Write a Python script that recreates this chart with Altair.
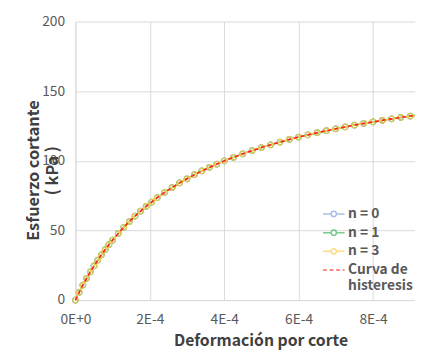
import altair as alt
import pandas as pd

# shear strain (x) and shear stress in kPa (y)
strain = [0.0, 0.1e-4, 0.2e-4, 0.3e-4, 0.4e-4, 0.5e-4, 0.6e-4, 0.7e-4, 0.8e-4, 0.9e-4,
          1.0e-4, 1.15e-4, 1.3e-4, 1.45e-4, 1.6e-4, 1.75e-4, 1.9e-4, 2.05e-4, 2.2e-4,
          2.4e-4, 2.6e-4, 2.8e-4, 3.0e-4, 3.2e-4, 3.4e-4, 3.6e-4, 3.8e-4, 4.0e-4,
          4.25e-4, 4.5e-4, 4.75e-4, 5.0e-4, 5.25e-4, 5.5e-4, 5.75e-4, 6.0e-4, 6.25e-4,
          6.5e-4, 6.75e-4, 7.0e-4, 7.25e-4, 7.5e-4, 7.75e-4, 8.0e-4, 8.25e-4, 8.5e-4,
          8.75e-4, 9.0e-4, 9.25e-4]
stress = [0.0, 5.5, 10.7, 15.6, 20.2, 24.5, 28.6, 32.5, 36.2, 39.8,
          43.1, 47.8, 52.2, 56.4, 60.2, 63.8, 67.2, 70.4, 73.5,
          77.3, 80.8, 84.1, 87.1, 90.0, 92.7, 95.2, 97.6, 99.9,
          102.5, 105.0, 107.3, 109.5, 111.5, 113.4, 115.3, 117.0, 118.6,
          120.2, 121.6, 123.0, 124.3, 125.6, 126.8, 127.9, 129.0, 130.1,
          131.1, 132.1, 133.0]

series_names = ["n = 0", "n = 1", "n = 3", "Curva de histeresis"]
series_colors = ["#86A4DD", "#45B564", "#FFD04D", "#FF2020"]
x_ticks = [0, 2e-4, 4e-4, 6e-4, 8e-4]
y_ticks = [0, 50, 100, 150, 200]

df = pd.DataFrame({"strain": strain, "stress": stress})

marker_path = ("M-1.15,0L-0.28,0M0.28,0L1.15,0M0.28,0A0.28,0.28 0 1 1 -0.28,0"
               "A0.28,0.28 0 1 1 0.28,0")
dash_path = "M-1.15,0L-0.75,0M-0.45,0L-0.05,0M0.25,0L0.65,0M0.95,0L1.15,0"

color_scale = alt.Scale(domain=series_names, range=series_colors)
shape_scale = alt.Scale(domain=series_names,
                        range=[marker_path, marker_path, marker_path, dash_path])

x_enc = alt.X("strain:Q",
              scale=alt.Scale(domain=[0, 9.13e-4], nice=False),
              axis=alt.Axis(values=x_ticks, labelFlush=False,
                            labelExpr="datum.value == 0 ? '0E+0' : format(datum.value*1e4, 'd') + 'E-4'",
                            title="Deformación por corte",
                            titleX=188, titleY=41, titleBaseline="middle",
                            titleAnchor="start", titleAlign="center", titleFontSize=16))
y_enc = alt.Y("stress:Q",
              scale=alt.Scale(domain=[0, 200], nice=False),
              axis=alt.Axis(values=y_ticks,
                            title=["Esfuerzo cortante", "( kPa )"],
                            titleX=-42, titleY=151, titleAngle=-90,
                            titleAlign="center", titleBaseline="middle",
                            titleLineHeight=19, titleFontSize=16.5))

layers = []
for name, col in zip(series_names[:3], series_colors[:3]):
    line = alt.Chart(df).mark_line(strokeWidth=1.5, color=col).encode(x=x_enc, y=y_enc)
    pts = alt.Chart(df).mark_point(filled=False, size=32, strokeWidth=1.2,
                                   color=col, opacity=0.85).encode(x=x_enc, y=y_enc)
    layers += [line, pts]

red = alt.Chart(df).mark_line(strokeWidth=1.6, strokeDash=[4, 3],
                              color=series_colors[3]).encode(x=x_enc, y=y_enc)
layers.append(red)

# legend-only layer (no data rows)
legend_df = pd.DataFrame({"strain": pd.Series([], dtype=float),
                          "stress": pd.Series([], dtype=float),
                          "serie": pd.Series([], dtype=str)})
legend_layer = alt.Chart(legend_df).mark_point(filled=False).encode(
    x=x_enc, y=y_enc,
    color=alt.Color("serie:N", scale=color_scale,
                    legend=alt.Legend(title=None, orient="none", legendX=252, legendY=185,
                                      labelExpr="datum.label == 'Curva de histeresis' ? ['Curva de', 'histeresis'] : datum.label")),
    shape=alt.Shape("serie:N", scale=shape_scale))
layers.append(legend_layer)

chart = alt.layer(*layers).properties(
    width=345, height=283,
    autosize=alt.AutoSizeParams(type="none"),
    padding={"left": 68.5, "top": 11, "right": 0, "bottom": 48},
).configure_view(stroke=None).configure_axis(
    grid=True, gridColor="#D9D9D9", gridWidth=1,
    domainColor="#D9D9D9", ticks=False,
    labelFont="Noto Sans CJK KR", labelFontSize=14, labelColor="#595959",
    titleFont="Noto Sans CJK KR", titleFontWeight="bold", titleColor="#404040",
).configure_axisX(labelPadding=13, domain=True).configure_axisY(
    labelPadding=11, domain=True
).configure_legend(
    labelFont="Noto Sans CJK KR", labelFontSize=14, labelFontWeight="bold", labelColor="#595959",
    symbolSize=360, symbolFillColor="transparent", symbolStrokeWidth=1.5,
    rowPadding=1, labelOffset=4, padding=0
)

chart.save("out.html", embed_options={"renderer": "svg", "actions": False})
